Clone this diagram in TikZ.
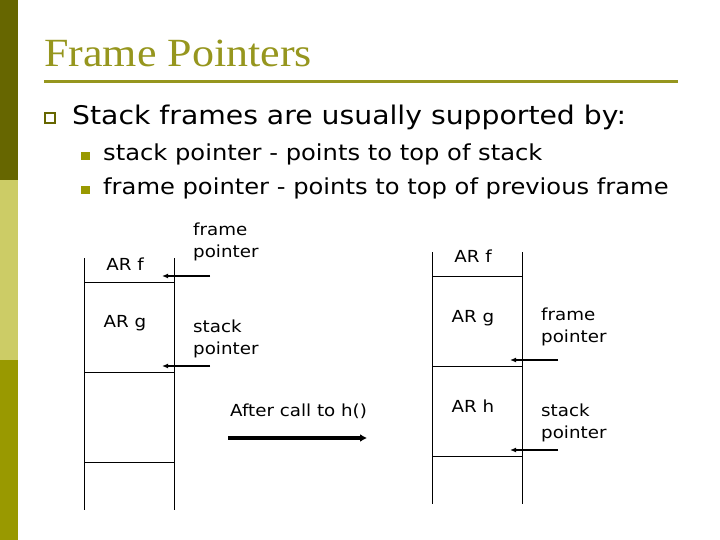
\documentclass[tikz,border=0pt]{standalone}
\usepackage{fontspec}
\setmainfont{Liberation Serif}
\newfontfamily\vfont[FakeStretch=1.1]{DejaVu Sans}
\newfontfamily\tfont[FakeStretch=1.1]{Liberation Serif}
\usetikzlibrary{arrows.meta}
\definecolor{darkol}{RGB}{102,102,0}
\definecolor{lightol}{RGB}{204,204,102}
\definecolor{ol}{RGB}{153,153,0}
\definecolor{titleol}{RGB}{150,150,30}
\tikzset{
  lbl/.style={font=\vfont\fontsize{16.6}{22}\selectfont, inner sep=0pt, align=left},
  stk/.style={line width=0.8pt, black},
  ptr/.style={line width=1.3pt, -{Latex[length=6pt,width=5pt]}},
}
\begin{document}
\begin{tikzpicture}[x=1pt,y=-1pt]
\useasboundingbox (0,0) rectangle (720,540);
\fill[white] (0,0) rectangle (720,540);
% side bar
\fill[darkol] (0,0) rectangle (18,180);
\fill[lightol] (0,180) rectangle (18,360);
\fill[ol] (0,360) rectangle (18,540);
% title
\node[anchor=base west, inner sep=0pt, text=titleol, font=\tfont\fontsize{40}{46}\selectfont] (title) at (44,67) {Frame Pointers};
\draw[titleol, line width=3pt] (44,82) -- (678,82);
% bullets
\draw[darkol, line width=2.4pt] (45.2,113.2) rectangle (54.8,122.8);
\node[anchor=base west, inner sep=0pt, font=\vfont\fontsize{25.7}{30}\selectfont] (b1) at (72,125) {Stack frames are usually supported by:};
\fill[ol] (81,152) rectangle (90,160);
\node[anchor=base west, inner sep=0pt, font=\vfont\fontsize{22}{26}\selectfont] (b2) at (103,161) {stack pointer - points to top of stack};
\fill[ol] (81,186) rectangle (90,194);
\node[anchor=base west, inner sep=0pt, font=\vfont\fontsize{22}{26}\selectfont] (b3) at (103,195) {frame pointer - points to top of previous frame};
% left stack
\draw[stk] (84,258) -- (84,510);
\draw[stk] (174,258) -- (174,510);
\draw[stk] (84,282) -- (174,282);
\draw[stk] (84,372) -- (174,372);
\draw[stk] (84,462) -- (174,462);
\node[lbl, anchor=base] (lf) at (125,270) {AR f};
\node[lbl, anchor=base] (lg) at (125,327) {AR g};
\node[lbl, anchor=base west] (lfp) at (193,258) {frame\\pointer};
\node[lbl, anchor=base west] (lsp) at (193,354) {stack\\pointer};
\coordinate (lfa) at (210,276); \coordinate (lfb) at (162,276);
\draw[ptr] (lfa) -- (lfb);
\coordinate (lsa) at (210,366); \coordinate (lsb) at (162,366);
\draw[ptr] (lsa) -- (lsb);
% after call
\node[lbl, anchor=base west] (ac) at (230,416) {After call to h()};
\coordinate (aca) at (228,438); \coordinate (acb) at (367,438);
\draw[line width=3.5pt, -{Latex[length=7pt,width=8pt]}] (aca) -- (acb);
% right stack
\draw[stk] (432,252) -- (432,504);
\draw[stk] (522,252) -- (522,504);
\draw[stk] (432,276) -- (522,276);
\draw[stk] (432,366) -- (522,366);
\draw[stk] (432,456) -- (522,456);
\node[lbl, anchor=base] (rf) at (473,262) {AR f};
\node[lbl, anchor=base] (rg) at (473,322) {AR g};
\node[lbl, anchor=base] (rh) at (473,412) {AR h};
\node[lbl, anchor=base west] (rfp) at (541,342) {frame\\pointer};
\node[lbl, anchor=base west] (rsp) at (541,438) {stack\\pointer};
\coordinate (rfa) at (558,360); \coordinate (rfb) at (510,360);
\draw[ptr] (rfa) -- (rfb);
\coordinate (rsa) at (558,450); \coordinate (rsb) at (510,450);
\draw[ptr] (rsa) -- (rsb);
\end{tikzpicture}
\end{document}
